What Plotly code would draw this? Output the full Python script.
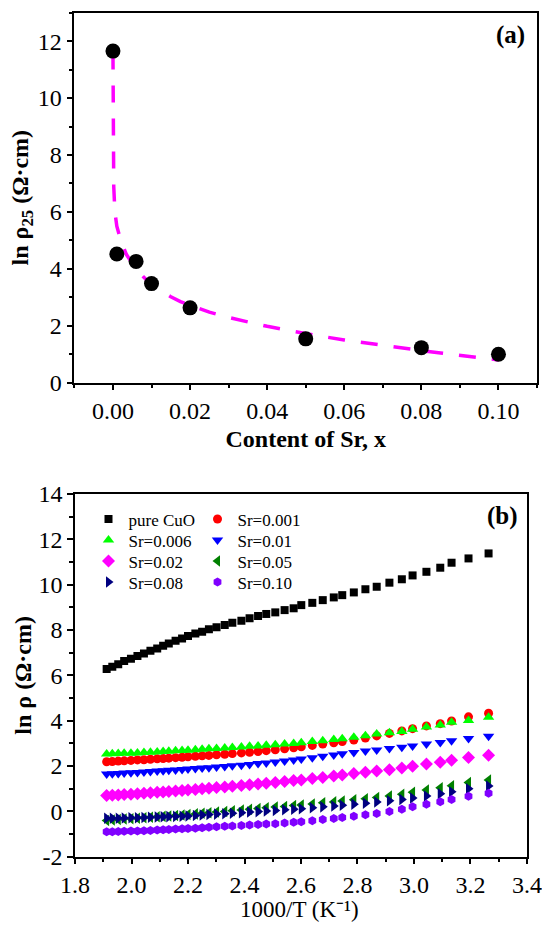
import plotly.graph_objects as go

# ---------------- Panel (a) data ----------------
sr_content = [0.0, 0.001, 0.006, 0.01, 0.02, 0.05, 0.08, 0.10]
ln_rho25 = [11.65, 4.52, 4.26, 3.48, 2.63, 1.54, 1.23, 1.00]

fit_x = [0.0, 0.0001, 0.0002, 0.0005, 0.001, 0.002, 0.0035, 0.0055, 0.008, 0.01,
         0.0125, 0.015, 0.0175, 0.02, 0.025, 0.03, 0.035, 0.04, 0.045, 0.05,
         0.055, 0.06, 0.065, 0.07, 0.075, 0.08, 0.085, 0.09, 0.095, 0.10]
fit_y = [11.6, 8.6, 6.9, 6.0, 5.5, 5.0, 4.5, 4.1, 3.7, 3.45,
         3.22, 3.02, 2.85, 2.72, 2.48, 2.29, 2.12, 1.98, 1.85, 1.72,
         1.61, 1.50, 1.40, 1.31, 1.22, 1.13, 1.04, 0.95, 0.87, 0.80]

# ---------------- Panel (b) data ----------------
inv_T = [1.912, 1.932, 1.953, 1.974, 1.998, 2.021, 2.044, 2.067, 2.091, 2.112,
         2.132, 2.156, 2.179, 2.200, 2.226, 2.250, 2.274, 2.301, 2.330, 2.357,
         2.389, 2.418, 2.448, 2.477, 2.509, 2.542, 2.574, 2.601, 2.640, 2.677,
         2.716, 2.746, 2.787, 2.828, 2.868, 2.913, 2.957, 2.995, 3.044, 3.093,
         3.133, 3.193, 3.264]

ln_rho_pure = [6.28, 6.38, 6.49, 6.63, 6.73, 6.85, 6.97, 7.09, 7.19, 7.31,
               7.41, 7.53, 7.63, 7.74, 7.85, 7.93, 8.03, 8.12, 8.22, 8.32,
               8.41, 8.52, 8.62, 8.71, 8.78, 8.88, 8.96, 9.10, 9.20, 9.32,
               9.44, 9.54, 9.66, 9.80, 9.91, 10.09, 10.24, 10.41, 10.57, 10.75,
               10.97, 11.16, 11.38]
ln_rho_0001 = [2.19, 2.20, 2.22, 2.23, 2.25, 2.27, 2.28, 2.30, 2.32, 2.33,
               2.35, 2.37, 2.39, 2.41, 2.43, 2.45, 2.47, 2.50, 2.52, 2.55,
               2.58, 2.61, 2.64, 2.68, 2.72, 2.76, 2.81, 2.85, 2.91, 2.97,
               3.03, 3.08, 3.15, 3.24, 3.33, 3.44, 3.55, 3.65, 3.77, 3.87,
               3.99, 4.17, 4.33]
ln_rho_0006 = [2.53, 2.54, 2.55, 2.56, 2.57, 2.58, 2.60, 2.61, 2.62, 2.64,
               2.65, 2.67, 2.69, 2.70, 2.72, 2.74, 2.76, 2.78, 2.80, 2.82,
               2.84, 2.87, 2.89, 2.92, 2.94, 2.97, 3.00, 3.03, 3.08, 3.12,
               3.17, 3.21, 3.27, 3.34, 3.41, 3.47, 3.53, 3.62, 3.72, 3.81,
               3.93, 4.01, 4.15]
ln_rho_001 = [1.65, 1.66, 1.67, 1.69, 1.71, 1.72, 1.74, 1.76, 1.78, 1.79,
              1.81, 1.83, 1.85, 1.87, 1.89, 1.91, 1.93, 1.96, 1.98, 2.01,
              2.04, 2.07, 2.11, 2.14, 2.18, 2.22, 2.27, 2.31, 2.37, 2.43,
              2.49, 2.54, 2.60, 2.66, 2.71, 2.77, 2.83, 2.89, 2.97, 3.04,
              3.12, 3.22, 3.32]
ln_rho_002 = [0.70, 0.71, 0.72, 0.74, 0.76, 0.78, 0.80, 0.82, 0.84, 0.86,
              0.88, 0.90, 0.92, 0.94, 0.97, 1.00, 1.02, 1.05, 1.08, 1.11,
              1.14, 1.18, 1.21, 1.24, 1.28, 1.32, 1.36, 1.39, 1.45, 1.50,
              1.56, 1.61, 1.67, 1.73, 1.78, 1.84, 1.91, 1.99, 2.09, 2.17,
              2.26, 2.38, 2.48]
ln_rho_005 = [-0.40, -0.38, -0.36, -0.34, -0.32, -0.30, -0.28, -0.26, -0.24, -0.22,
              -0.20, -0.18, -0.16, -0.14, -0.11, -0.08, -0.06, -0.03, 0.00, 0.03,
              0.06, 0.09, 0.13, 0.16, 0.19, 0.22, 0.26, 0.28, 0.33, 0.38,
              0.42, 0.46, 0.51, 0.56, 0.61, 0.68, 0.76, 0.84, 0.94, 1.04,
              1.13, 1.27, 1.38]
ln_rho_008 = [-0.30, -0.30, -0.30, -0.29, -0.28, -0.28, -0.27, -0.26, -0.25, -0.24,
              -0.23, -0.22, -0.21, -0.20, -0.18, -0.16, -0.14, -0.12, -0.10, -0.08,
              -0.06, -0.03, -0.01, 0.02, 0.04, 0.07, 0.10, 0.12, 0.16, 0.20,
              0.24, 0.27, 0.32, 0.36, 0.41, 0.47, 0.53, 0.59, 0.68, 0.78,
              0.87, 1.00, 1.12]
ln_rho_010 = [-0.90, -0.90, -0.89, -0.88, -0.87, -0.86, -0.85, -0.84, -0.82, -0.81,
              -0.80, -0.78, -0.77, -0.75, -0.74, -0.72, -0.70, -0.68, -0.66, -0.64,
              -0.62, -0.60, -0.58, -0.56, -0.54, -0.51, -0.48, -0.46, -0.41, -0.36,
              -0.31, -0.27, -0.21, -0.15, -0.09, -0.01, 0.09, 0.20, 0.32, 0.43,
              0.53, 0.67, 0.80]

series_names = ["pure CuO", "Sr=0.001", "Sr=0.006", "Sr=0.01",
                "Sr=0.02", "Sr=0.05", "Sr=0.08", "Sr=0.10"]
series_values = [ln_rho_pure, ln_rho_0001, ln_rho_0006, ln_rho_001,
                 ln_rho_002, ln_rho_005, ln_rho_008, ln_rho_010]
series_colors = ["#000000", "#FF0000", "#00FF00", "#0000FF",
                 "#FF00FF", "#008000", "#000080", "#8000FF"]
series_symbols = ["square", "circle", "triangle-up", "triangle-down",
                  "diamond", "triangle-left", "triangle-right", "hexagon"]
series_sizes = [8, 9, 10, 10, 10, 10, 10, 9]
# legend row (two entries per row, as in the reference)
series_legend = ["legend", "legend", "legend2", "legend2",
                 "legend3", "legend3", "legend4", "legend4"]

xa_ticks = [0.00, 0.02, 0.04, 0.06, 0.08, 0.10]
xa_labels = ["0.00", "0.02", "0.04", "0.06", "0.08", "0.10"]
ya_ticks = [0, 2, 4, 6, 8, 10, 12]
ya_labels = ["0", "2", "4", "6", "8", "10", "12"]
xb_ticks = [1.8, 2.0, 2.2, 2.4, 2.6, 2.8, 3.0, 3.2, 3.4]
xb_labels = ["1.8", "2.0", "2.2", "2.4", "2.6", "2.8", "3.0", "3.2", "3.4"]
yb_ticks = [-2, 0, 2, 4, 6, 8, 10, 12, 14]
yb_labels = ["-2", "0", "2", "4", "6", "8", "10", "12", "14"]

SERIF = "Liberation Serif"
W, H = 542, 925

fig = go.Figure()

# Panel (a)
fig.add_trace(go.Scatter(
    x=fit_x, y=fit_y, mode="lines",
    line=dict(color="#FF00FF", width=3.5, dash="17px,16px"),
    xaxis="x", yaxis="y", showlegend=False))
fig.add_trace(go.Scatter(
    x=sr_content, y=ln_rho25, mode="markers",
    marker=dict(color="black", size=15, symbol="circle"),
    xaxis="x", yaxis="y", showlegend=False))

# Panel (b)
for name, vals, col, sym, sz, lg in zip(series_names, series_values, series_colors,
                                        series_symbols, series_sizes, series_legend):
    fig.add_trace(go.Scatter(
        x=inv_T, y=vals, mode="markers", name=name,
        marker=dict(color=col, size=sz, symbol=sym, line=dict(width=0)),
        xaxis="x2", yaxis="y2", legend=lg))

axis_common = dict(
    showline=True, linecolor="black", linewidth=1.5, mirror=True,
    ticks="outside", ticklen=6, tickwidth=1.5, tickcolor="black",
    showgrid=False, zeroline=False, automargin=False,
    tickfont=dict(family=SERIF, size=24, color="black"),
)

def row_legend(yc):
    return dict(orientation="h", x=88.5 / W, y=1 - yc / H, xanchor="left", yanchor="middle",
                bgcolor="rgba(0,0,0,0)", font=dict(family=SERIF, size=17, color="black"),
                itemwidth=30, entrywidth=64, entrywidthmode="pixels")

fig.update_layout(
    width=W, height=H,
    margin=dict(l=0, r=0, t=0, b=0, autoexpand=False),
    paper_bgcolor="white", plot_bgcolor="white",
    xaxis=dict(domain=[0.1373, 0.9908], range=[-0.01, 0.11], anchor="y",
               tickvals=xa_ticks, ticktext=xa_labels,
               minor=dict(ticks="outside", ticklen=4, tickwidth=1.5, dtick=0.01, tick0=0, tickcolor="black"),
               title=dict(text="<b>Content of Sr, x</b>", font=dict(family=SERIF, size=24, color="black"), standoff=7),
               **axis_common),
    yaxis=dict(domain=[0.5863, 0.9863], range=[0, 13], anchor="x",
               tickvals=ya_ticks, ticktext=ya_labels,
               minor=dict(ticks="outside", ticklen=4, tickwidth=1.5, dtick=1, tick0=0, tickcolor="black"),
               title=dict(text="<b>ln ρ<sub>25</sub> (Ω·cm)</b>", font=dict(family=SERIF, size=24, color="black"), standoff=2),
               **axis_common),
    xaxis2=dict(domain=[0.1384, 0.9723], range=[1.8, 3.4], anchor="y2",
                tickvals=xb_ticks, ticktext=xb_labels,
                minor=dict(ticks="outside", ticklen=4, tickwidth=1.5, dtick=0.1, tick0=1.8, tickcolor="black"),
                **axis_common),
    yaxis2=dict(domain=[0.0738, 0.4659], range=[-2, 14], anchor="x2",
                tickvals=yb_ticks, ticktext=yb_labels,
                minor=dict(ticks="outside", ticklen=4, tickwidth=1.5, dtick=1, tick0=0, tickcolor="black"),
                title=dict(text="<b>ln ρ (Ω·cm)</b>", font=dict(family=SERIF, size=24, color="black"), standoff=0),
                **axis_common),
    legend=row_legend(519.5),
    legend2=row_legend(540.5),
    legend3=row_legend(561.5),
    legend4=row_legend(582.5),
    annotations=[
        dict(text="<b>(a)</b>", xref="paper", yref="paper", x=510 / W, y=1 - 35 / H,
             xanchor="center", yanchor="middle",
             showarrow=False, font=dict(family=SERIF, size=25, color="black")),
        dict(text="<b>(b)</b>", xref="paper", yref="paper", x=502 / W, y=1 - 516 / H,
             xanchor="center", yanchor="middle",
             showarrow=False, font=dict(family=SERIF, size=25, color="black")),
        dict(text="1000/T (K⁻¹)", xref="paper", yref="paper", x=299 / W, y=1.5 / H,
             xanchor="center", yanchor="bottom",
             showarrow=False, font=dict(family=SERIF, size=23, color="black")),
    ],
)

fig.write_html("out.html")
